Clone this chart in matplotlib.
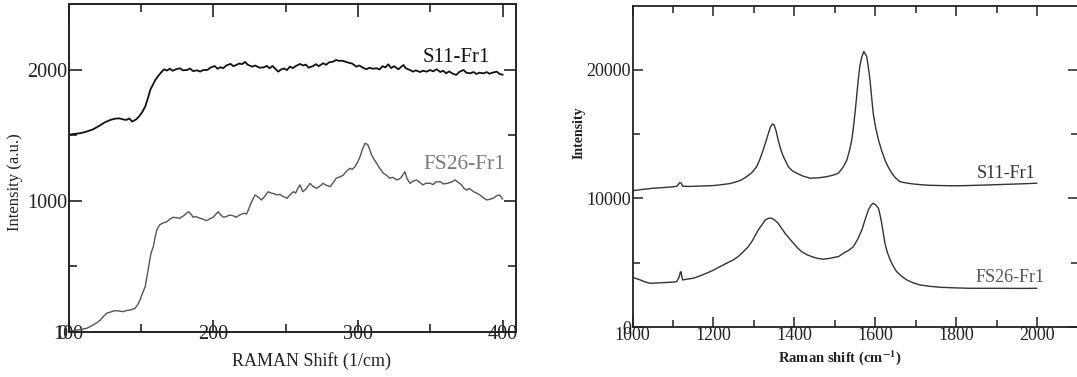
import matplotlib
matplotlib.use("Agg")
import matplotlib.pyplot as plt
from matplotlib.ticker import FixedLocator, NullFormatter

plt.rcParams['font.family'] = ['Liberation Serif', 'DejaVu Serif']
plt.rcParams['mathtext.fontset'] = 'stix'

# ---------------- low-frequency spectra (left) ----------------
low_s11_x = [100, 104, 108, 112, 117, 121, 125, 129, 132, 135, 138, 140, 142, 144, 147, 149,
             151, 153, 155, 156.5, 158, 160, 162, 163.5, 166, 168, 170, 172, 174, 177, 179, 182,
             184, 186, 189, 191, 193, 196, 198, 201, 203, 205, 207, 209, 212, 214, 216, 218,
             220, 222, 224, 227, 229, 232, 235, 237, 239, 241, 243, 245, 247, 249, 251, 253,
             255, 257, 260, 262, 264, 266, 269, 271, 273, 276, 278, 280, 283, 285, 287, 289,
             292, 294, 296, 299, 301, 304, 306, 308, 310, 313, 315, 317, 319, 321, 323, 325,
             328, 330, 331.5, 333, 336, 338, 340, 343, 345, 347.5, 350, 352, 354.5, 357, 359,
             361, 363, 366, 368, 370, 373, 375, 377.5, 380, 382, 384, 387, 389, 391, 393, 396,
             398, 400]
low_s11_y = [1505, 1512, 1517, 1528, 1547, 1572, 1600, 1619, 1628, 1631, 1622, 1619, 1630, 1606,
             1625, 1649, 1680, 1720, 1790, 1848, 1880, 1924, 1955, 1975, 2006, 1996, 2010, 1995,
             2005, 2014, 1998, 2001, 2012, 1992, 1998, 1988, 2000, 2001, 2018, 2031, 2010, 2022,
             2014, 2035, 2047, 2030, 2039, 2050, 2045, 2062, 2040, 2026, 2035, 2018, 2021, 2032,
             2014, 2031, 2010, 1988, 2005, 2012, 2000, 2026, 2015, 2030, 2047, 2035, 2042, 2018,
             2031, 2045, 2030, 2052, 2040, 2058, 2065, 2077, 2070, 2072, 2062, 2055, 2050, 2026,
             2035, 2015, 2006, 2018, 2010, 2014, 2005, 2030, 2020, 2044, 2015, 2030, 2006, 2025,
             2039, 2015, 2000, 1988, 1998, 1985, 1995, 1988, 2000, 1990, 2006, 1985, 1995, 1975,
             1990, 1970, 1963, 1985, 2001, 1980, 1975, 1985, 1970, 1980, 1975, 1985, 1972, 1980,
             1988, 1970, 1965]

low_fs26_x = [100, 103, 106, 109, 112.6, 115, 117, 120, 122, 124, 126.4, 129, 132, 135, 138, 140,
              142.5, 146, 148, 149.4, 151, 153, 155, 157, 158.6, 160, 161, 163, 165, 168, 170,
              172.4, 175, 177, 180, 182.8, 185, 186, 188, 191, 193, 195.5, 198, 200, 202, 203.5,
              205, 207, 209, 211.6, 214, 216, 218, 221, 223, 224.3, 226, 228.9, 231, 233.5, 236,
              238, 240, 242, 244, 246, 248, 251, 253, 255.4, 257, 258.5, 260, 262, 264, 267, 269,
              271.5, 274, 276, 278, 281, 283, 285, 288, 290, 292, 294.5, 296, 298, 300, 301.5,
              303, 305, 306, 307, 309.5, 311, 313, 315, 317.6, 320, 322, 324, 327, 329, 330.3,
              332.5, 334, 336, 338, 340.6, 343, 345, 347, 350, 352, 354, 357, 359, 362, 365, 367,
              369, 371.7, 373, 375, 377, 380, 382, 384.4, 386, 389, 391, 393.6, 396, 398, 400]
low_fs26_y = [0, 8, 13, 18, 26, 40, 51, 72, 89, 115, 141, 150, 161, 158, 153, 162, 166, 179, 210,
              242, 290, 344, 472, 599, 650, 730, 778, 816, 830, 841, 860, 875, 870, 867, 890, 917,
              895, 875, 880, 867, 860, 849, 865, 875, 900, 917, 895, 875, 880, 892, 885, 875, 890,
              905, 900, 930, 980, 1045, 1030, 1007, 1040, 1070, 1060, 1055, 1045, 1050, 1035,
              1020, 1045, 1070, 1060, 1095, 1122, 1070, 1090, 1134, 1110, 1096, 1115, 1134, 1120,
              1109, 1140, 1173, 1185, 1198, 1225, 1249, 1240, 1262, 1300, 1338, 1390, 1440, 1435,
              1427, 1351, 1320, 1287, 1250, 1211, 1195, 1173, 1180, 1160, 1170, 1185, 1223, 1170,
              1134, 1150, 1160, 1140, 1122, 1135, 1134, 1125, 1145, 1147, 1130, 1134, 1145, 1160,
              1145, 1122, 1100, 1083, 1095, 1070, 1060, 1045, 1030, 1007, 1012, 1020, 1040, 1045,
              1015]

# ---------------- D/G band spectra (right) ----------------
dg_s11_x = [1000, 1025, 1051, 1080, 1100, 1110, 1117, 1120, 1124, 1140, 1175, 1200, 1216, 1240,
            1258, 1270, 1282, 1295, 1307, 1315, 1323, 1330, 1336, 1341, 1346, 1350, 1355, 1360,
            1366, 1373, 1380, 1385, 1395, 1406, 1420, 1439, 1460, 1480, 1495, 1509, 1520, 1530,
            1537, 1542, 1546, 1550, 1554, 1558, 1562, 1567, 1572, 1576, 1579, 1583, 1587, 1591,
            1595, 1601, 1608, 1616, 1624, 1632, 1641, 1650, 1661, 1677, 1694, 1715, 1735, 1760,
            1790, 1818, 1850, 1875, 1900, 1930, 1960, 1999]
dg_s11_y = [10600, 10700, 10790, 10850, 10900, 10950, 11230, 11200, 10950, 10930, 10970, 11000,
            11050, 11150, 11300, 11450, 11690, 12000, 12470, 13050, 13770, 14450, 15070, 15550,
            15790, 15720, 15250, 14550, 13850, 13250, 12800, 12470, 12150, 11960, 11750, 11570,
            11600, 11690, 11800, 11960, 12400, 12990, 13800, 14550, 15500, 16620, 17900, 19220,
            20300, 21030, 21420, 21200, 21030, 20200, 19220, 17900, 16620, 15500, 14550, 13700,
            12990, 12450, 11960, 11600, 11300, 11200, 11120, 11060, 11020, 11000, 10980, 10990,
            11020, 11040, 11070, 11100, 11130, 11180]

dg_fs26_x = [1000, 1010, 1019, 1030, 1043, 1060, 1076, 1095, 1109, 1114, 1116, 1118, 1120, 1122,
             1124, 1135, 1150, 1165, 1183, 1200, 1216, 1232, 1249, 1262, 1274, 1285, 1295, 1303,
             1311, 1320, 1328, 1336, 1344, 1352, 1360, 1368, 1377, 1388, 1398, 1408, 1418, 1430,
             1443, 1457, 1472, 1488, 1500, 1509, 1521, 1534, 1546, 1557, 1567, 1575, 1583, 1589,
             1595, 1601, 1608, 1612, 1616, 1620, 1624, 1630, 1637, 1645, 1653, 1665, 1678, 1695,
             1711, 1735, 1760, 1800, 1834, 1875, 1917, 1960, 1999]
dg_fs26_y = [3870, 3760, 3660, 3520, 3400, 3420, 3450, 3480, 3520, 3800, 3970, 4250, 4300, 3900,
             3660, 3720, 3790, 3950, 4180, 4420, 4690, 4950, 5210, 5500, 5860, 6200, 6640, 7100,
             7550, 7950, 8320, 8450, 8460, 8300, 8070, 7700, 7290, 6880, 6510, 6150, 5860, 5640,
             5470, 5340, 5270, 5340, 5420, 5470, 5730, 5950, 6250, 6850, 7550, 8350, 9100, 9450,
             9620, 9500, 9230, 8700, 8070, 7300, 6510, 5800, 5210, 4700, 4300, 3950, 3660, 3420,
             3270, 3160, 3090, 3040, 3010, 3010, 3010, 3000, 3010]

W, H = 1077, 377
fig = plt.figure(figsize=(W / 100, H / 100), dpi=100)


def px_rect(x0, x1, ytop, ybot):
    return [x0 / W, 1 - ybot / H, (x1 - x0) / W, (ybot - ytop) / H]


# ---- left panel ----
ax1 = fig.add_axes(px_rect(68.5, 516, 4, 331.7))
ax1.plot(low_s11_x, low_s11_y, color='#111111', lw=1.3)
ax1.plot(low_fs26_x, low_fs26_y, color='#555555', lw=1.0)
ax1.set_xlim(100, 409.3)
ax1.set_ylim(0, 2505)
ax1.xaxis.set_major_locator(FixedLocator([100, 200, 300, 400]))
ax1.xaxis.set_minor_locator(FixedLocator([150, 250, 350]))
ax1.yaxis.set_major_locator(FixedLocator([0, 1000, 2000]))
ax1.yaxis.set_minor_locator(FixedLocator([500, 1500]))
ax1.tick_params(which='both', direction='in', top=True, right=True, width=1.2,
                labelsize=14.5, colors='#222222')
ax1.tick_params(which='major', length=9)
ax1.tick_params(which='minor', length=6)
ax1.tick_params(axis='x', which='major', pad=-5)
ax1.tick_params(axis='y', which='major', pad=1)
for s in ax1.spines.values():
    s.set_linewidth(1.4)
    s.set_color('#222222')
ax1.text(345, 2062, 'S11-Fr1', fontsize=15, color='#111111', ha='left', va='baseline')
ax1.text(345, 1243, 'FS26-Fr1', fontsize=15.5, color='#7a7a7a', ha='left', va='baseline')
fig.text(15 / W, 1 - 182 / H, 'Intensity (a.u.)', rotation=90, fontsize=12,
         ha='center', va='center', color='#222222')
fig.text(311 / W, 1 - 361 / H, 'RAMAN Shift (1/cm)', fontsize=13,
         ha='center', va='center', color='#222222')

# ---- right panel ----
ax2 = fig.add_axes(px_rect(632.5, 1077.5, 5.5, 327))
ax2.plot(dg_s11_x, dg_s11_y, color='#333333', lw=1.0)
ax2.plot(dg_fs26_x, dg_fs26_y, color='#333333', lw=1.0)
ax2.set_xlim(1000, 2100)
ax2.set_ylim(0, 25000)
ax2.xaxis.set_major_locator(FixedLocator([1000, 1200, 1400, 1600, 1800, 2000]))
ax2.xaxis.set_minor_locator(FixedLocator([1100, 1300, 1500, 1700, 1900]))
ax2.yaxis.set_major_locator(FixedLocator([0, 10000, 20000]))
ax2.yaxis.set_minor_locator(FixedLocator([5000, 15000]))
ax2.yaxis.set_minor_formatter(NullFormatter())
ax2.tick_params(which='both', direction='in', top=True, right=True, width=1.1,
                labelsize=13, colors='#222222')
ax2.tick_params(which='major', length=7)
ax2.tick_params(which='minor', length=5)
ax2.tick_params(axis='x', which='major', pad=0)
ax2.tick_params(axis='y', which='major', pad=1)
for s in ax2.spines.values():
    s.set_linewidth(1.3)
    s.set_color('#222222')
ax2.text(1851, 11590, 'S11-Fr1', fontsize=13, color='#333333', ha='left', va='baseline')
ax2.text(1847, 3500, 'FS26-Fr1', fontsize=13, color='#555555', ha='left', va='baseline')
fig.text(579 / W, 1 - 133 / H, 'Intensity', rotation=90, fontsize=10, fontweight='bold',
         ha='center', va='center', color='#222222')
fig.text(840 / W, 1 - 358 / H, r'Raman shift (cm$^{\mathbf{-1}}$)', fontsize=10.5,
         fontweight='bold', ha='center', va='center', color='#222222')

fig.savefig('out.png', dpi=100)
